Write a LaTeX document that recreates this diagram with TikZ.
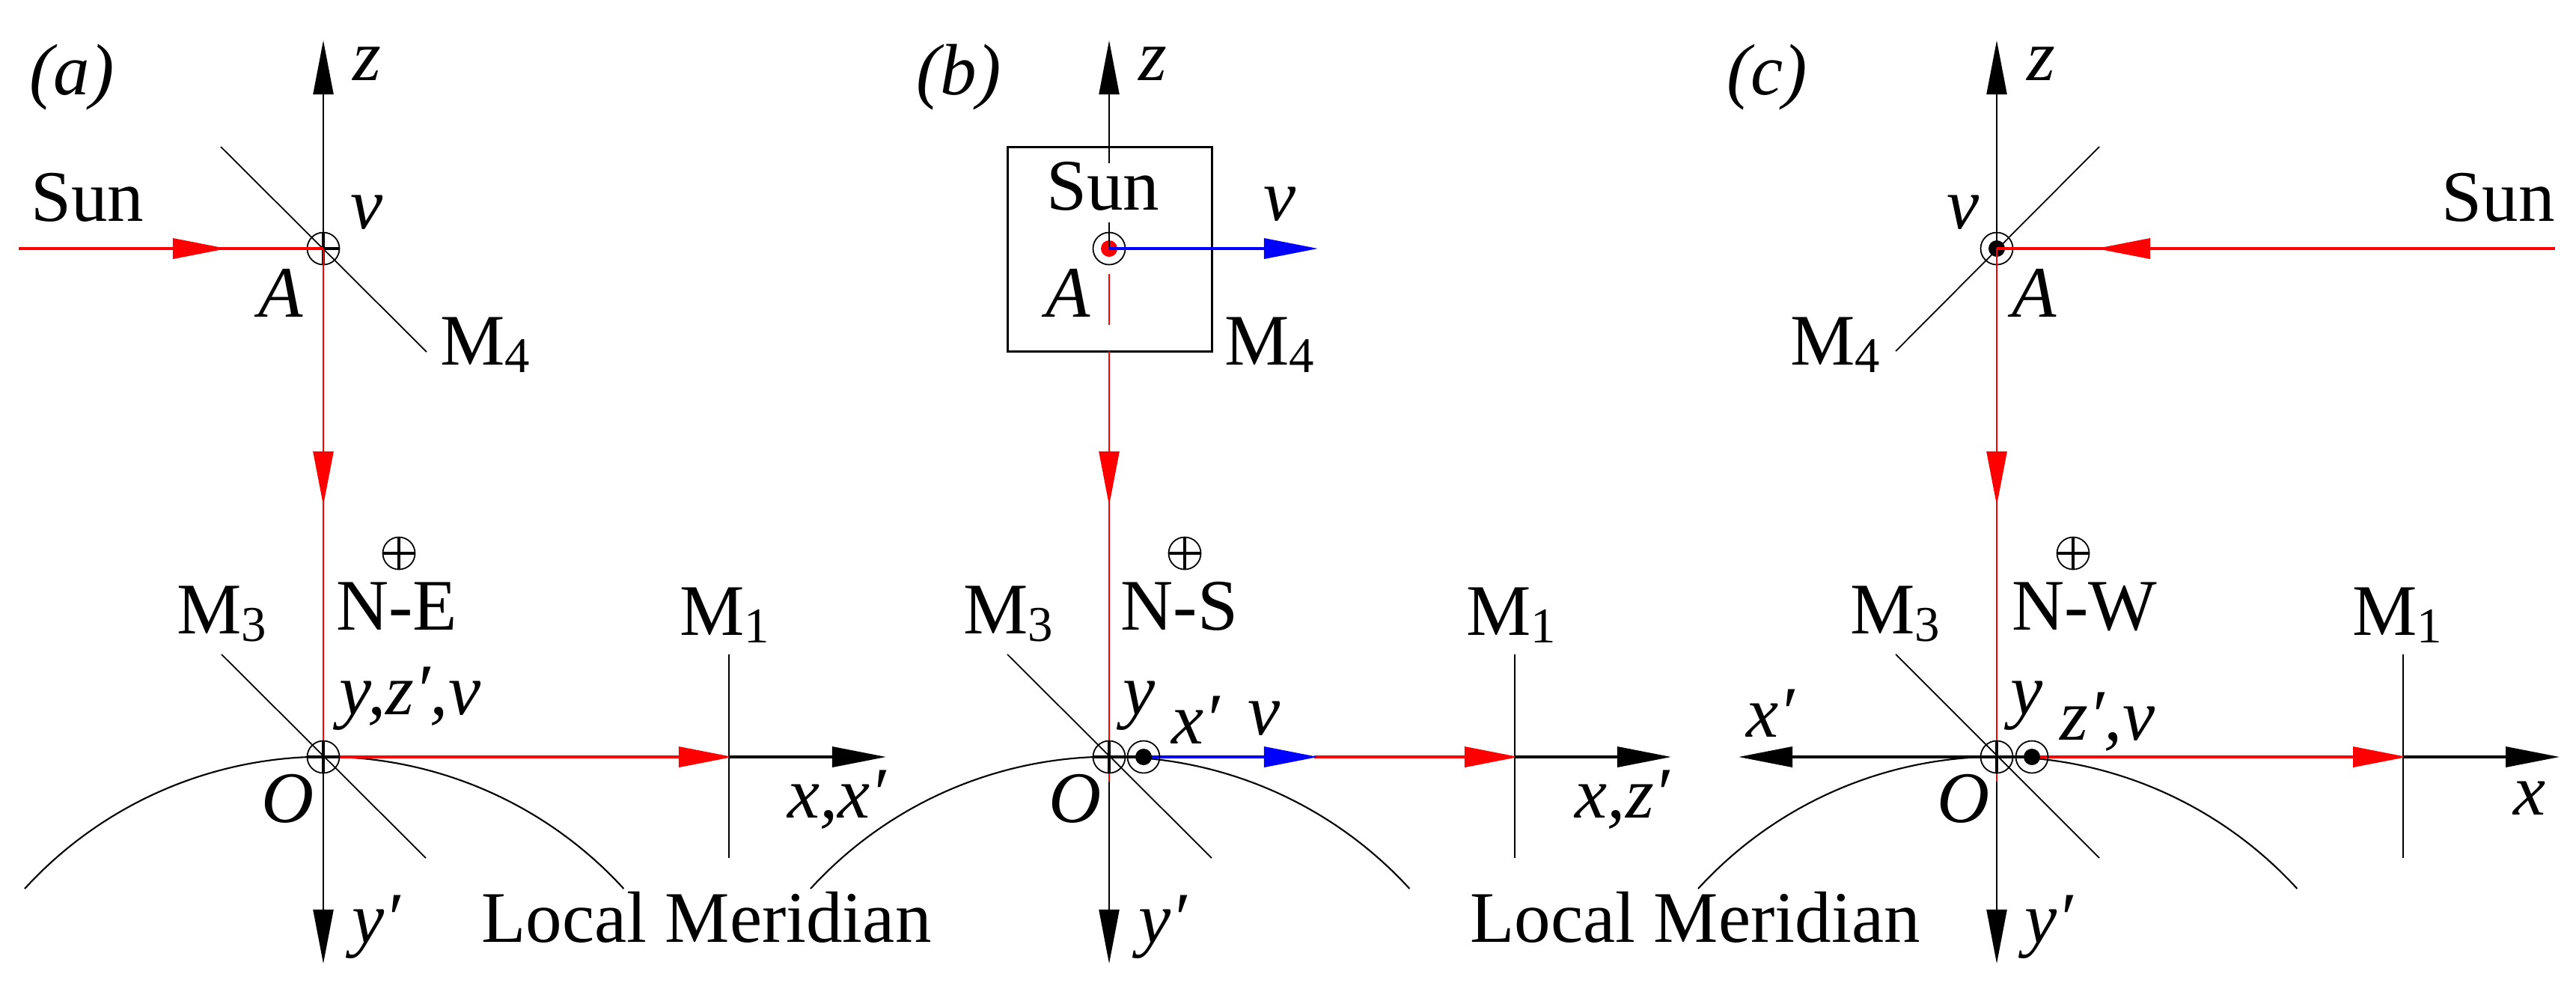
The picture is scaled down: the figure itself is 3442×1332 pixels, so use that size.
\documentclass[tikz,border=0pt]{standalone}
\usepackage{fontspec}
\setmainfont{Liberation Serif}
\usetikzlibrary{arrows.meta}
\newcommand{\Msub}[1]{M\raisebox{-3pt}{\fontsize{19}{19}\selectfont #1}}
\tikzset{
  txt/.style={inner sep=0,anchor=base,font=\fontsize{27.6}{30}\selectfont},
  ital/.style={inner sep=0,anchor=base,font=\fontsize{27.6}{30}\selectfont\itshape},
  tip/.style={-{Triangle[length=.72cm,width=.27cm]},shorten >=-.05cm},
  axis/.style={black,line width=.6pt},
  xaxis/.style={black,line width=1pt},
  mirror/.style={black,line width=.5pt},
  earth/.style={black,line width=.6pt},
  rayv/.style={red,line width=.7pt},
  rayh/.style={red,line width=1pt},
  bluray/.style={blue,line width=1pt},
  ring/.style={circle,draw,line width=.5pt,minimum size=.43cm,inner sep=0,outer sep=0},
  dotin/.style={circle,fill,minimum size=.22cm,inner sep=0}
}
\begin{document}
\begin{tikzpicture}[x=.01cm,y=-.01cm]
  \useasboundingbox (0,0) rectangle (3442,1332);
  % panel a
  \coordinate (Aa) at (432,332); \coordinate (Oa) at (432,1011); \coordinate (Ua) at (432,670); \coordinate (Ea) at (974,1011);
  \coordinate (Sa) at (25,332); \coordinate (Ta) at (298,332);
  \draw[mirror] (295,196)--(570,470); \draw[mirror] (296,874)--(569,1146); \draw[mirror] (974,874)--(974,1146);
  \draw[earth] (33,1187) arc[start angle=137.56,end angle=42.44,radius=5.42cm];
  \draw[axis,tip] (Aa)--(432,59);
  \node[ring] (Ra) at (Aa) {}; \draw[line width=.9pt] (Ra.west)--(Ra.east) (Ra.north)--(Ra.south);
  \draw[rayh] (Sa)--(Aa); \draw[rayh,tip] (Sa)--(Ta);
  \draw[rayv] (Aa)--(Oa); \draw[rayv,tip] (Aa)--(Ua);
  \draw[axis,tip] (Oa)--(432,1282);
  \draw[rayh,tip] (Oa)--(Ea); \draw[xaxis,tip] (Ea)--(1179,1011);
  \node[ring] (Qa) at (Oa) {}; \draw[line width=.9pt] (Qa.west)--(Qa.east) (Qa.north)--(Qa.south);
  \node[ring] (Na) at (533,739) {}; \draw[line width=.9pt] (Na.west)--(Na.east) (Na.north)--(Na.south);
  \node[ital] (la) at (96,126) {(a)}; \node[ital] (za) at (490,107) {z}; \node[txt] (suna) at (117,295) {Sun};
  \node[ital] (va) at (490,305) {v}; \node[ital] (aa) at (375,423) {A}; \node[txt] (m4a) at (648,487) {\Msub{4}};
  \node[txt] (nea) at (530,841) {N-E}; \node[txt] (m3a) at (296,846) {\Msub{3}}; \node[txt] (m1a) at (968,848) {\Msub{1}};
  \node[ital] (yza) at (548,954) {y,z′,v}; \node[ital] (oa) at (385,1098) {O}; \node[ital] (xa) at (1118,1092) {x,x′};
  \node[ital] (ya) at (503,1259) {y′}; \node[txt] (lma) at (944,1258) {Local Meridian};
  % panel b
  \coordinate (Ab) at (1482,332); \coordinate (Ob) at (1482,1011); \coordinate (Ub) at (1482,670); \coordinate (Db) at (1528,1011);
  \coordinate (Hb) at (1756,1011); \coordinate (Eb) at (2024,1011);
  \draw[line width=.85pt] (1346,196) rectangle (1619,469);
  \draw[mirror] (1346,874)--(1619,1146); \draw[mirror] (2024,874)--(2024,1146);
  \draw[earth] (1083,1187) arc[start angle=137.56,end angle=42.44,radius=5.42cm];
  \draw[axis,tip] (1482,218)--(1482,59);
  \node[ring] (Rb) at (Ab) {}; \node[dotin,red] (Pb) at (Ab) {};
  \draw[axis] (1482,297)--(Ab);
  \draw[rayv] (1482,366)--(1482,434);
  \draw[bluray,tip] (Ab)--(1756,332);
  \draw[rayv] (1482,469)--(1482,1044); \draw[rayv,tip] (1482,469)--(Ub);
  \draw[axis,tip] (1482,1044)--(1482,1282);
  \draw[xaxis] (Ob)--(Db);
  \draw[rayh,tip] (Hb)--(Eb); \draw[bluray,tip] (Db)--(Hb); \draw[xaxis,tip] (Eb)--(2228,1011);
  \node[ring] (Qb) at (Ob) {}; \draw[line width=.9pt] (Qb.west)--(Qb.east) (Qb.north)--(Qb.south);
  \node[ring] (Kb) at (Db) {}; \node[dotin] (Gb) at (Db) {};
  \node[ring] (Nb) at (1583,739) {}; \draw[line width=.9pt] (Nb.west)--(Nb.east) (Nb.north)--(Nb.south);
  \node[ital] (lb) at (1281,126) {(b)}; \node[ital] (zb) at (1540,107) {z}; \node[txt] (sunb) at (1474,280) {Sun};
  \node[ital] (vb) at (1710,294) {v}; \node[ital] (ab) at (1427,423) {A}; \node[txt] (m4b) at (1696,487) {\Msub{4}};
  \node[txt] (nsb) at (1576,841) {N-S}; \node[txt] (m3b) at (1347,846) {\Msub{3}}; \node[txt] (m1b) at (2019,848) {\Msub{1}};
  \node[ital] (yb) at (1522,954) {y}; \node[ital] (xpb) at (1598,993) {x′}; \node[ital] (vvb) at (1689,981) {v};
  \node[ital] (ob) at (1437,1098) {O}; \node[ital] (xb) at (2168,1092) {x,z′};
  \node[ital] (ypb) at (1554,1259) {y′}; \node[txt] (lmb) at (2265,1258) {Local Meridian};
  % panel c
  \coordinate (Ac) at (2668,332); \coordinate (Oc) at (2668,1011); \coordinate (Uc) at (2668,670); \coordinate (Dc) at (2715,1011);
  \coordinate (Ec) at (3211,1011); \coordinate (Sc) at (3414,332); \coordinate (Tc) at (2806,332);
  \draw[mirror] (2533,469)--(2805,196); \draw[mirror] (2533,874)--(2805,1146); \draw[mirror] (3211,874)--(3211,1146);
  \draw[earth] (2269,1187) arc[start angle=137.56,end angle=42.44,radius=5.42cm];
  \draw[axis,tip] (Ac)--(2668,59);
  \node[ring] (Rc) at (Ac) {}; \node[dotin] (Pc) at (Ac) {};
  \draw[rayh] (Sc)--(Ac); \draw[rayh,tip] (Sc)--(Tc);
  \draw[rayv] (Ac)--(2668,1044); \draw[rayv,tip] (Ac)--(Uc);
  \draw[axis,tip] (2668,1044)--(2668,1282);
  \draw[xaxis,tip] (Dc)--(2328,1011);
  \draw[rayh,tip] (Dc)--(Ec); \draw[xaxis,tip] (Ec)--(3415,1011);
  \node[ring] (Qc) at (Oc) {}; \draw[line width=.9pt] (Qc.west)--(Qc.east) (Qc.north)--(Qc.south);
  \node[ring] (Kc) at (Dc) {}; \node[dotin] (Gc) at (Dc) {};
  \node[ring] (Nc) at (2770,739) {}; \draw[line width=.9pt] (Nc.west)--(Nc.east) (Nc.north)--(Nc.south);
  \node[ital] (lc) at (2361,126) {(c)}; \node[ital] (zc) at (2727,107) {z}; \node[txt] (sunc) at (3338,295) {Sun};
  \node[ital] (vc) at (2623,305) {v}; \node[ital] (ac) at (2718,423) {A}; \node[txt] (m4c) at (2452,487) {\Msub{4}};
  \node[txt] (nwc) at (2785,841) {N-W}; \node[txt] (m3c) at (2532,846) {\Msub{3}}; \node[txt] (m1c) at (3203,848) {\Msub{1}};
  \node[ital] (yc) at (2708,954) {y}; \node[ital] (zvc) at (2816,988) {z′,v}; \node[ital] (xpc) at (2366,984) {x′};
  \node[ital] (oc) at (2624,1098) {O}; \node[ital] (xc) at (3380,1088) {x}; \node[ital] (ypc) at (2738,1259) {y′};
\end{tikzpicture}
\end{document}
